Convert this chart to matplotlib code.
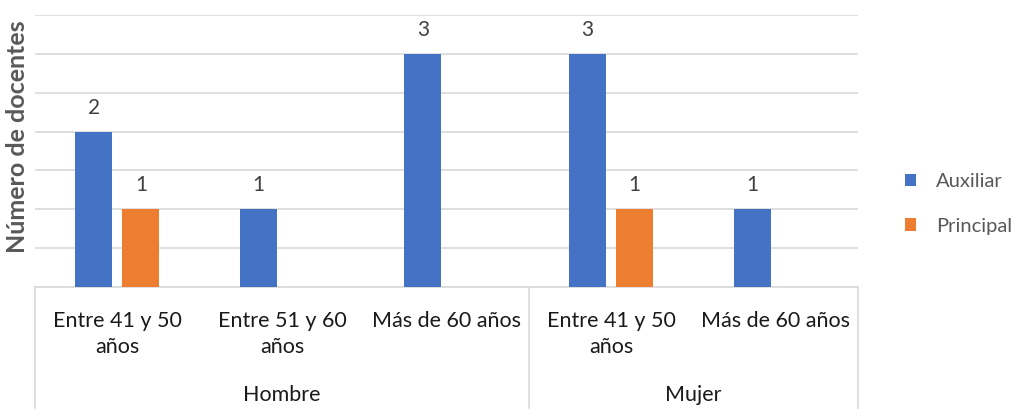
import numpy as np
import matplotlib
matplotlib.use("Agg")
import matplotlib.pyplot as plt

# ====== DATA ======
categories = ["Entre 41 y 50\naños", "Entre 51 y 60\naños", "Más de 60 años",
              "Entre 41 y 50\naños", "Más de 60 años"]
groups = ["Hombre", "Mujer"]
group_spans = [(0, 2), (3, 4)]  # first and last category index of each group
auxiliar = [2, 1, 3, 3, 1]
principal = [1, np.nan, np.nan, 1, np.nan]
series_names = ["Auxiliar", "Principal"]
# ==================

BLUE = "#4472C4"
ORANGE = "#ED7D31"
GRID = "#D9D9D9"
FONT = "Lato"

plt.rcParams["font.family"] = [FONT, "DejaVu Sans"]

W, H = 1017, 412
fig = plt.figure(figsize=(W / 100, H / 100), dpi=100)
left, right, top, base = 35, 858, 15, 287
ax = fig.add_axes([left / W, (H - base) / H, (right - left) / W, (base - top) / H])

x = np.arange(len(categories))
bw = 0.225
off = 0.143
ax.bar(x - off, auxiliar, bw, color=BLUE, label=series_names[0], zorder=3)
ax.bar(x + off, principal, bw, color=ORANGE, label=series_names[1], zorder=3)

for xs, vals in [(x - off, auxiliar), (x + off, principal)]:
    for xi, v in zip(xs, vals):
        if not np.isnan(v):
            ax.annotate(f"{v:g}", (xi, v), xytext=(0, 10), textcoords="offset points",
                        ha="center", va="bottom", fontsize=15, color="#404040")

ax.set_xlim(-0.5, len(categories) - 0.5)
ax.set_ylim(0, 3.5)
ax.set_yticks(np.arange(0, 3.51, 0.5))
ax.set_yticklabels([])
ax.tick_params(axis="y", length=0)
ax.set_xticks([])
ax.grid(axis="y", color=GRID, linewidth=1.2, zorder=0)
for s in ["top", "right", "left"]:
    ax.spines[s].set_visible(False)
ax.spines["bottom"].set_color(GRID)
ax.spines["bottom"].set_linewidth(1.2)

# multi-level category axis
px = 1.0 / (base - top)
trans = ax.get_xaxis_transform()
for xi, lab in zip(x, categories):
    ax.text(xi, -(311 - base) * px, lab, transform=trans, ha="center", va="top",
            fontsize=15.5, color="#1a1a1a", linespacing=1.35)
for name, (a, b) in zip(groups, group_spans):
    ax.text((a + b) / 2, -(395 - base) * px, name, transform=trans, ha="center",
            va="center", fontsize=15.5, color="#1a1a1a")
for xb in [-0.5, 2.5, 4.5]:
    ax.plot([xb, xb], [0, -(408 - base) * px], transform=trans, color=GRID,
            linewidth=1.2, clip_on=False)

fig.text(18 / W, (H - 137) / H, "Número de docentes", rotation=90, ha="center",
         va="center", fontsize=18, fontweight="bold", color="#595959")

leg = ax.legend(loc="center left", bbox_to_anchor=(887 / W, (H - 204) / H),
                bbox_transform=fig.transFigure, frameon=False, fontsize=14.5,
                handlelength=0.55, handleheight=0.55, labelspacing=1.35, handletextpad=1.0)
for t in leg.get_texts():
    t.set_color("#595959")

fig.savefig("out.png", dpi=100)
